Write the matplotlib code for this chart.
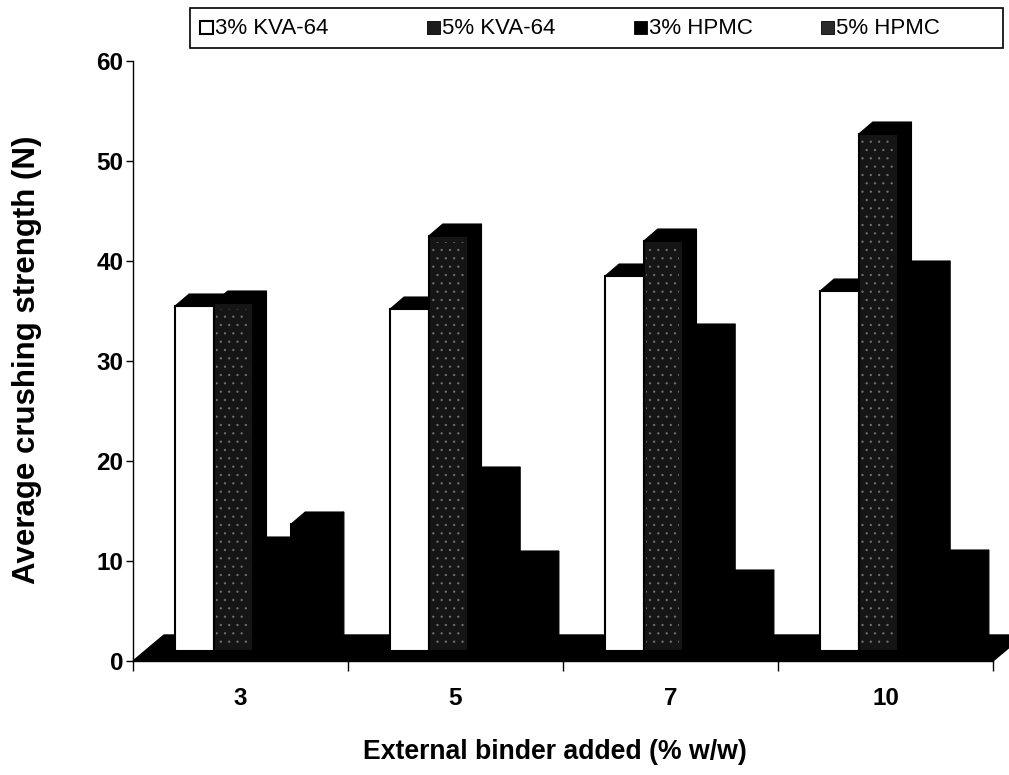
import matplotlib
matplotlib.use("Agg")
import matplotlib.pyplot as plt
from matplotlib.patches import Polygon, Rectangle

# Crushing strength data (N) for each external binder level (% w/w)
categories = ["3", "5", "7", "10"]
series_names = ["3% KVA-64", "5% KVA-64", "3% HPMC", "5% HPMC"]
kva64_3 = [34.5, 34.2, 37.5, 36.0]
kva64_5 = [34.8, 41.5, 41.0, 51.7]
hpmc_3 = [10.2, 17.2, 31.5, 37.8]
hpmc_5 = [12.7, 8.8, 6.9, 8.9]
y_ticks = [0, 10, 20, 30, 40, 50, 60]

series_values = [kva64_3, kva64_5, hpmc_3, hpmc_5]
front_colors = ["white", "#151515", "black", "black"]
key_colors = ["white", "#1c1c1c", "black", "#2a2a2a"]
stippled = [False, True, False, False]

plt.rcParams["font.family"] = ["Liberation Sans", "DejaVu Sans"]
plt.rcParams["hatch.linewidth"] = 0.5

W, H = 1009, 775
fig = plt.figure(figsize=(W / 100, H / 100), dpi=100)
ax = fig.add_axes([133 / W, 1 - 661 / H, 860 / W, 600 / H])
ax.set_xlim(0, len(categories))
ax.set_ylim(0, 60)

# pseudo-3D geometry, in data units
px_x = len(categories) / 860.0
floor_dx, floor_dy = 31 * px_x, 2.6
bar_ox, bar_oy = 12 * px_x, 1.0
depth_dx, depth_dy = 14 * px_x, 1.2
bar_w = 0.18
margin = (1 - len(series_values) * bar_w) / 2

n = len(categories)
floor = Polygon([(0, 0), (n, 0), (n + floor_dx, floor_dy), (floor_dx, floor_dy)],
                closed=True, facecolor="black", edgecolor="black", lw=1,
                clip_on=False, zorder=1)
ax.add_patch(floor)

z = 2.0
for i in range(n):
    for j, vals in enumerate(series_values):
        h = vals[i]
        x0 = i + margin + j * bar_w + bar_ox
        y0 = bar_oy
        side = Polygon([(x0 + bar_w, y0), (x0 + bar_w + depth_dx, y0 + depth_dy),
                        (x0 + bar_w + depth_dx, y0 + h + depth_dy), (x0 + bar_w, y0 + h)],
                       closed=True, facecolor="black", edgecolor="black", lw=0.8,
                       clip_on=False, zorder=z)
        top = Polygon([(x0, y0 + h), (x0 + bar_w, y0 + h),
                       (x0 + bar_w + depth_dx, y0 + h + depth_dy), (x0 + depth_dx, y0 + h + depth_dy)],
                      closed=True, facecolor="black", edgecolor="black", lw=0.8,
                      clip_on=False, zorder=z + 0.001)
        front = Rectangle((x0, y0), bar_w, h, facecolor=front_colors[j],
                          edgecolor="black", lw=1.5, clip_on=False, zorder=z + 0.002)
        ax.add_patch(side)
        ax.add_patch(top)
        ax.add_patch(front)
        if stippled[j]:
            dots = Rectangle((x0 + 0.012, y0 + 0.6), bar_w - 0.03, h - 1.2,
                             fill=False, edgecolor=(1, 1, 1, 0.3), lw=0,
                             hatch="..", clip_on=False, zorder=z + 0.003)
            ax.add_patch(dots)
        z += 0.01

for s in ("top", "right"):
    ax.spines[s].set_visible(False)
ax.spines["left"].set_linewidth(1.0)
ax.spines["bottom"].set_linewidth(1.0)

ax.set_yticks(y_ticks)
ax.set_yticklabels([str(t) for t in y_ticks], fontsize=17.5, fontweight="bold")
ax.tick_params(axis="y", direction="out", length=5, width=1, pad=2)

ax.set_xticks(range(n + 1))
ax.set_xticklabels([])
ax.tick_params(axis="x", which="major", direction="out", length=7, width=1)
ax.set_xticks([i + 0.5 for i in range(n)], minor=True)
ax.set_xticklabels(categories, minor=True, fontsize=17.5, fontweight="bold")
ax.tick_params(axis="x", which="minor", length=0, pad=19)

fig.text(555 / W, 1 - 752 / H, "External binder added (% w/w)",
         ha="center", va="center", fontsize=19.2, fontweight="bold")
fig.text(27 / W, 1 - 360 / H, "Average crushing strength (N)",
         ha="center", va="center", rotation=90, fontsize=22.5, fontweight="bold")


# legend key box, laid out in figure pixels
def fx(px):
    return px / W


def fy(py):
    return 1 - py / H


fig.patches.append(Rectangle((fx(190), fy(48)), fx(1003) - fx(190), fy(8) - fy(48),
                             transform=fig.transFigure, facecolor="white",
                             edgecolor="black", lw=1.2, zorder=5))
key_x = [200, 427, 634, 821]
for name, color, kx in zip(series_names, key_colors, key_x):
    fig.patches.append(Rectangle((fx(kx), fy(34)), fx(13), 13 / H,
                                 transform=fig.transFigure, facecolor=color,
                                 edgecolor="black", lw=1.5 if color == "white" else 0.6,
                                 zorder=6))
    fig.text(fx(kx + 15), fy(28), name, ha="left", va="center",
             fontsize=16, zorder=7)

fig.savefig("out.png", dpi=100)
